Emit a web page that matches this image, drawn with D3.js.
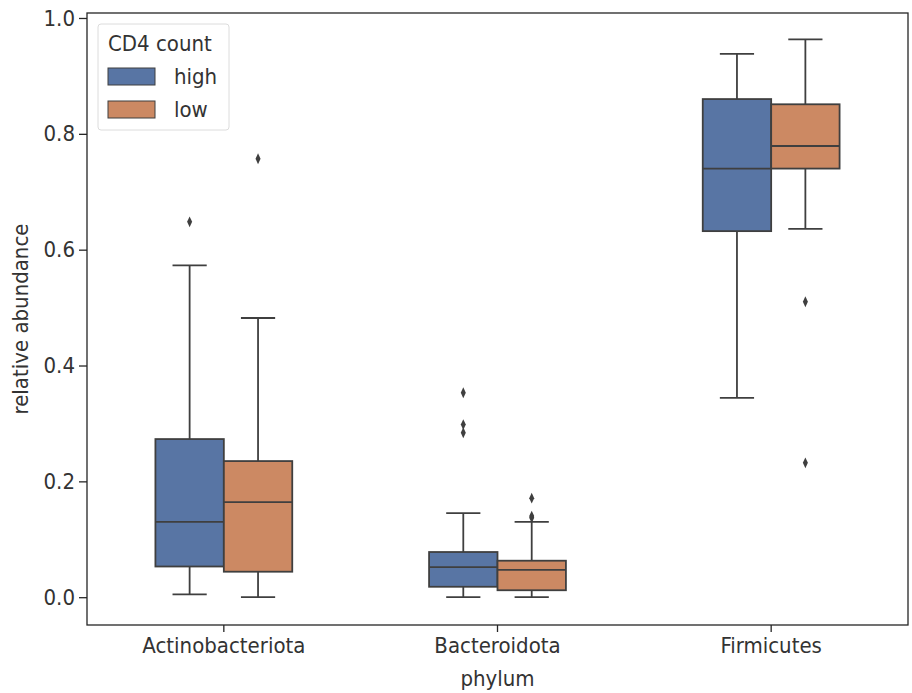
<!DOCTYPE html>
<html><head><meta charset="utf-8">
<script src="https://cdn.jsdelivr.net/npm/d3@7"></script>
<style>body{margin:0;background:#fff}svg{font-family:"DejaVu Sans Condensed","DejaVu Sans",sans-serif}</style>
</head><body><svg id="c" width="912" height="693"></svg>
<script>
const categories = ["Actinobacteriota", "Bacteroidota", "Firmicutes"];
const hues = ["high", "low"];
const colors = ["#5875a4", "#cc8963"];
// [whiskerLow, q1, median, q3, whiskerHigh]
const highStats = [[0.005, 0.053, 0.130, 0.273, 0.573], [0.0, 0.018, 0.052, 0.078, 0.145], [0.344, 0.632, 0.740, 0.860, 0.938]];
const lowStats  = [[0.0, 0.044, 0.164, 0.235, 0.482], [0.0, 0.012, 0.047, 0.063, 0.130], [0.636, 0.740, 0.779, 0.851, 0.963]];
const highOutliers = [[0.648], [0.353, 0.298, 0.284], []];
const lowOutliers  = [[0.757], [0.171, 0.140, 0.137], [0.510, 0.232]];
const yTicks = [0.0, 0.2, 0.4, 0.6, 0.8, 1.0];

const FS = 22;
const svg = d3.select("#c");
const m = {l: 87, r: 908, t: 13, b: 625};
const x = d3.scaleBand().domain(categories).range([m.l, m.r]).padding(0);
const y = d3.scaleLinear().domain([-0.048, 1.0086]).range([m.b, m.t]);
const hx = d3.scaleBand().domain(hues).range([0, x.bandwidth() * 0.5]);
const line = "#3f3f3f";

const groups = [];
categories.forEach((c, i) => {
  groups.push({c, h: "high", s: highStats[i], o: highOutliers[i], col: colors[0]});
  groups.push({c, h: "low", s: lowStats[i], o: lowOutliers[i], col: colors[1]});
});

const g = svg.append("g");
groups.forEach(d => {
  const x0 = x(d.c) + x.bandwidth() * 0.25 + hx(d.h);
  const w = hx.bandwidth();
  const cx = x0 + w / 2;
  const cap = w * 0.5;
  const [lo, q1, med, q3, hi] = d.s;
  g.append("line").attr("x1", cx).attr("x2", cx).attr("y1", y(hi)).attr("y2", y(q3)).attr("stroke", line).attr("stroke-width", 1.8);
  g.append("line").attr("x1", cx).attr("x2", cx).attr("y1", y(q1)).attr("y2", y(lo)).attr("stroke", line).attr("stroke-width", 1.8);
  g.append("line").attr("x1", cx - cap/2).attr("x2", cx + cap/2).attr("y1", y(hi)).attr("y2", y(hi)).attr("stroke", line).attr("stroke-width", 1.8);
  g.append("line").attr("x1", cx - cap/2).attr("x2", cx + cap/2).attr("y1", y(lo)).attr("y2", y(lo)).attr("stroke", line).attr("stroke-width", 1.8);
  g.append("rect").attr("x", x0).attr("y", y(q3)).attr("width", w).attr("height", y(q1) - y(q3))
    .attr("fill", d.col).attr("stroke", line).attr("stroke-width", 1.8);
  g.append("line").attr("x1", x0).attr("x2", x0 + w).attr("y1", y(med)).attr("y2", y(med)).attr("stroke", line).attr("stroke-width", 1.8);
  d.o.forEach(v => {
    g.append("path").attr("d", d3.symbol(d3.symbolDiamond, 34)())
      .attr("transform", `translate(${cx},${y(v)}) scale(0.8,1)`).attr("fill", line);
  });
});

// axes
const ya = svg.append("g").attr("transform", `translate(${m.l},0)`)
  .call(d3.axisLeft(y).tickValues(yTicks).tickFormat(d3.format(".1f")).tickSize(8).tickPadding(4));
const xa = svg.append("g").attr("transform", `translate(0,${m.b})`)
  .call(d3.axisBottom(x).tickSize(7).tickPadding(5));
[ya, xa].forEach(a => {
  a.select(".domain").remove();
  a.selectAll("line").attr("stroke", "#262626").attr("stroke-width", 1.3);
  a.selectAll("text").attr("font-size", FS).attr("fill", "#333").attr("font-family", "DejaVu Sans Condensed");
});
svg.append("rect").attr("x", m.l).attr("y", m.t).attr("width", m.r - m.l).attr("height", m.b - m.t)
  .attr("fill", "none").attr("stroke", "#262626").attr("stroke-width", 1.3);

svg.append("text").attr("transform", `translate(28,${(m.t + m.b) / 2}) rotate(-90)`)
  .attr("text-anchor", "middle").attr("font-size", FS).attr("fill", "#333").text("relative abundance");
svg.append("text").attr("x", (m.l + m.r) / 2).attr("y", 686)
  .attr("text-anchor", "middle").attr("font-size", FS).attr("fill", "#333").text("phylum");

// legend
const lg = svg.append("g");
lg.append("rect").attr("x", 98).attr("y", 24).attr("width", 131).attr("height", 106).attr("rx", 3)
  .attr("fill", "#fff").attr("fill-opacity", 0.8).attr("stroke", "#dcdcdc");
lg.append("text").attr("x", 108).attr("y", 51).attr("font-size", FS).attr("fill", "#333").text("CD4 count");
hues.forEach((h, i) => {
  lg.append("rect").attr("x", 108).attr("y", 68 + i * 33).attr("width", 47).attr("height", 17)
    .attr("fill", colors[i]).attr("stroke", line).attr("stroke-width", 1);
  lg.append("text").attr("x", 174).attr("y", 84 + i * 33).attr("font-size", FS).attr("fill", "#333").text(h);
});
</script></body></html>
